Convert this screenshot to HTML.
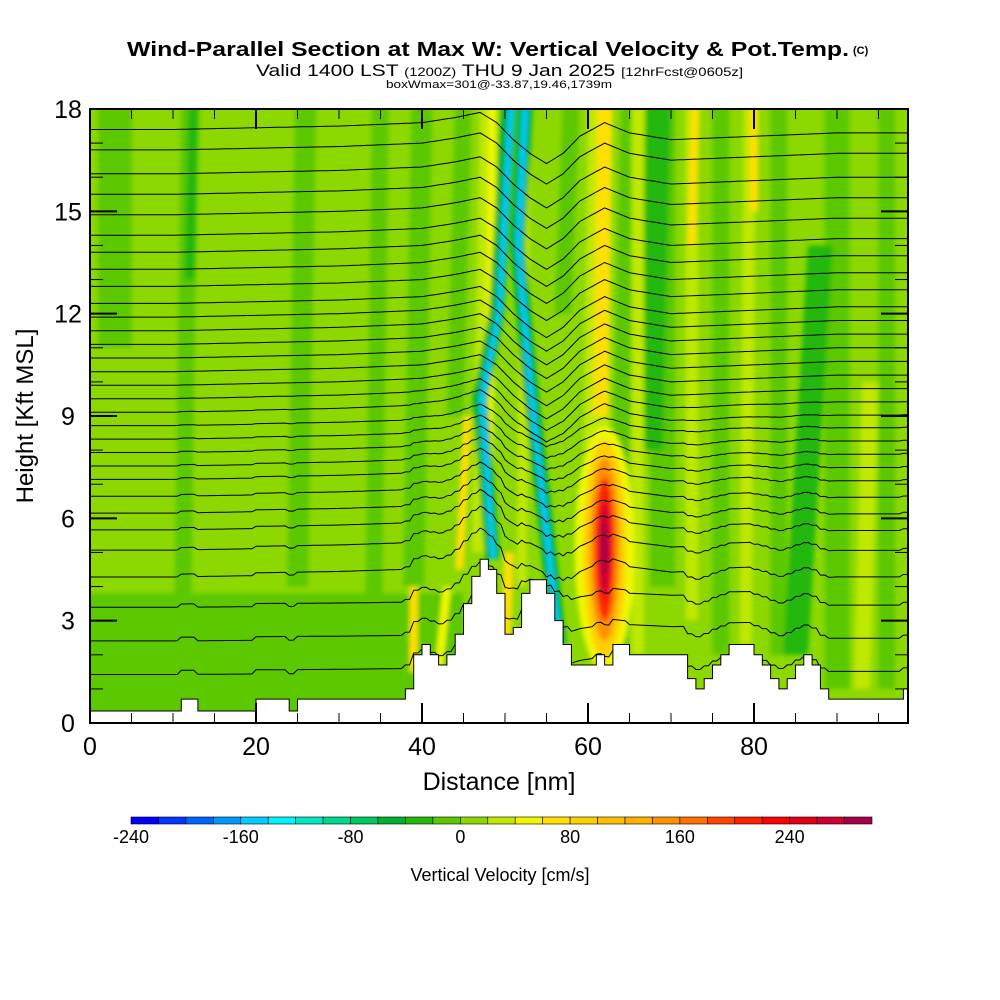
<!DOCTYPE html>
<html><head><meta charset="utf-8"><style>
body{margin:0;background:#fff;width:1000px;height:1000px;overflow:hidden;font-family:"Liberation Sans",sans-serif}
svg{position:absolute;left:0;top:0}
</style></head><body>
<svg id="chart" width="1000" height="1000" viewBox="0 0 1000 1000">
<defs>
<clipPath id="plotclip"><rect x="90" y="109" width="818" height="614"/></clipPath>
<filter id="soft" x="-20%" y="-20%" width="140%" height="140%"><feGaussianBlur stdDeviation="2.5"/></filter>
</defs>
<g>
<text x="127" y="56" font-size="20" font-weight="bold" textLength="722" lengthAdjust="spacingAndGlyphs">Wind-Parallel Section at Max W: Vertical Velocity &amp; Pot.Temp.</text>
<text x="853" y="54" font-size="11" font-weight="bold">(C)</text>
<text x="256" y="76" font-size="17" textLength="487" lengthAdjust="spacingAndGlyphs">Valid 1400 LST <tspan font-size="12">(1200Z)</tspan> THU 9 Jan 2025 <tspan font-size="12">[12hrFcst@0605z]</tspan></text>
<text x="386" y="88" font-size="11" textLength="226" lengthAdjust="spacingAndGlyphs">boxWmax=301@-33.87,19.46,1739m</text>
</g>
<g id="plot" clip-path="url(#plotclip)"></g>
<g id="axes"></g>
<g id="cbar"></g>
</svg>
<script>
// ---- data ----
const binColors=["#0000ff","#0034ff","#0064ff","#0098ff","#00ccff","#00f4ff","#00e8c0","#00d890","#00c860","#00b030","#24b80c","#5cc800","#8cd800","#c0e800","#f0f800","#ffe000","#ffd000","#ffc000","#ffb000","#ff9000","#ff7000","#ff4400","#ff2000","#ff0000","#e00018","#cc0030","#a80048"];
const cbarTicks=[-240,-160,-80,0,80,160,240];
const backgroundW=10;
// stripes: x positions (nm), heights (kft), width (nm), w value (cm/s)
const stripeX=[[22,22],[11,12],[3,3],[25,26],[34,35],[39,40],[44,45],[57,58],[64,65],[69,69],[76,76],[83,83],[90,90],[96,96],[12,12.5],[67.5,68.5],[86,86],[47,48],[52,52.5],[61,61.5],[66,66],[72.5,72.5],[79,79.5],[93,94],[39,39],[48,48.5],[61.5,62],[72.5,73],[80,80],[42,43],[44.5,45.5],[50,50.5],[85,88],[64,64]];
const stripeZ=[[0,3.8],[0,18],[11,18],[4,18],[0,18],[4,18],[9,18],[12,18],[8,18],[4,18],[2,18],[2,18],[1,18],[1,18],[13,18],[8,18],[2,5],[5,18],[4,18],[8,18],[2,18],[3,18],[2.3,18],[1,10],[1.5,4],[6,18],[9,18],[14,18],[15,18],[1.5,4],[4.5,9],[2,5],[2,14],[2,8]];
const stripeWidth=[46,2,4,2.5,2,2.5,2,2,2,3,2,2,3,2,1.2,3,0.8,2,1.2,3,1.5,1.5,1.5,2,1,1,1.8,1,1,1,1,1.2,3,1.5];
const stripeW=[-10,-10,-10,-10,-10,-10,-10,-10,-10,-10,-10,-10,-10,-10,-30,-30,-60,30,30,35,30,30,30,30,60,55,60,60,60,40,60,70,-30,-30];
// shear-zone downdraft bands (polylines)
const downX=[[50.5,49,47,48.5],[52.5,51.5,53,56.5],[50.8,49.3,47.2,48.6],[52.5,51.6,53,56.5]];
const downZ=[[18,12,9.5,4.8],[18,14,10,2.3],[18,12,9.5,4.8],[18,14,10,2.3]];
const downWidth=[1.8,1.8,0.7,0.7];
const downW=[-60,-60,-150,-150];
// updraft core
const coreX=62, coreZ=5.1;
const coreW=[40,80,140,200,260,290];
const coreRx=[3.6,2.6,1.8,1.2,0.7,0.35];
const coreRz=[3.6,3.2,2.7,2.1,1.4,0.8];
// terrain (step)
const terrX=[0,11,13,20,24,25,38,39,40,41,42,43,44,45,46,47,48,49,50,51,52,53,55,56,57,58,61,62,63,65,72,73,74,75,76,77,80,81,82,83,84,85,86,87,88,89,98];
const terrZ=[0.35,0.7,0.35,0.7,0.35,0.7,1.0,2.0,2.3,2.0,1.7,2.0,2.6,3.5,4.3,4.8,4.5,3.8,2.6,2.8,3.8,4.2,3.8,3.0,2.3,1.7,2.0,1.7,2.3,2.0,1.3,1.0,1.3,1.7,2.0,2.3,2.0,1.7,1.3,1.0,1.3,1.7,2.0,1.7,1.0,0.7,1.0];
// isentrope base heights (kft at left edge) & displacement profile
const thetaBase=[1.3,2.3,3.3,4.2,5.0,5.6,6.1,6.6,7.1,7.5,7.9,8.3,8.7,9.1,9.5,9.9,10.3,10.7,11.1,11.5,11.9,12.3,12.8,13.3,13.8,14.3,14.9,15.5,16.1,16.8,17.4];
const dispX=[0,10,20,30,40,44,47,49,51,53,55,57,59,62,65,70,75,80,90,98.5];
const dispZ=[0,0,0.05,0.1,0.2,0.35,0.5,0.2,-0.3,-0.7,-1.0,-0.7,-0.2,0.2,-0.1,-0.3,-0.25,-0.2,-0.1,-0.1];
const xTicks=[0,20,40,60,80];
const yTicks=[0,3,6,9,12,15,18];
// ---- scales ----
const X=d=>90+d*8.3, Z=k=>723-k*(614/18);
const col=w=>binColors[Math.max(0,Math.min(26,Math.floor((w+240)/20)))];
const NS="http://www.w3.org/2000/svg";
function mk(t,a,p){const e=document.createElementNS(NS,t);for(const k in a)e.setAttribute(k,a[k]);p.appendChild(e);return e;}
const plot=document.getElementById('plot');
const bg=mk('rect',{x:90,y:109,width:818,height:614,fill:col(backgroundW)},plot);


const fg=mk('g',{filter:'url(#soft)'},plot);
stripeX.forEach((xs,i)=>{
 const hw=stripeWidth[i]/2, zs=stripeZ[i];
 const pts=[[X(xs[0]-hw),Z(zs[0])],[X(xs[0]+hw),Z(zs[0])],[X(xs[1]+hw),Z(zs[1])+(zs[1]>=18?-10:0)],[X(xs[1]-hw),Z(zs[1])+(zs[1]>=18?-10:0)]];
 const p=mk('polygon',{points:pts.map(q=>q.join(',')).join(' '),fill:col(stripeW[i])},fg);
 
 
});
downX.forEach((xs,i)=>{
 const pts=xs.map((x,j)=>X(x)+','+(downZ[i][j]>=18?Z(18)-10:Z(downZ[i][j]))).join(' ');
 const p=mk('polyline',{points:pts,fill:'none',stroke:col(downW[i]),'stroke-width':downWidth[i]*8.3},fg);
 
 
});
coreW.forEach((w,i)=>{
 const e=mk('ellipse',{cx:X(coreX),cy:Z(coreZ),rx:coreRx[i]*8.3,ry:coreRz[i]*614/18,fill:col(w)},fg);
 
 
});
// isentropes
function interp(x){for(let j=1;j<dispX.length;j++){if(x<=dispX[j]){const t=(x-dispX[j-1])/(dispX[j]-dispX[j-1]);return dispZ[j-1]+t*(dispZ[j]-dispZ[j-1]);}}return dispZ[dispZ.length-1];}
function terr(x){let z=terrZ[0];for(let j=0;j<terrX.length;j++){if(x>=terrX[j])z=terrZ[j];}return z;}
const lg=mk('g',{fill:'none',stroke:'#000','stroke-width':1},plot);
thetaBase.forEach(b=>{
 const amp=b<4?0.3:(b<9?0.8:1);
 let d='';
 for(let x=0;x<=99;x+=0.5){
  const z=b+amp*interp(x)+terr(x)*Math.max(0,1-b/10)*0.4;
  d+=(x===0?'M':'L')+X(x).toFixed(1)+','+Z(z).toFixed(1);
 }
 const p=mk('path',{d:d},lg);
 
 
});
// terrain
let td='M'+X(0)+','+Z(0)+' ';
terrX.forEach((x,i)=>{const nx=i+1<terrX.length?terrX[i+1]:99;td+='L'+X(x)+','+Z(terrZ[i])+' L'+X(nx)+','+Z(terrZ[i])+' ';});
td+='L'+X(99)+','+Z(0)+'Z';
const tp=mk('path',{d:td,fill:'#fff',stroke:'#000','stroke-width':1},plot);


// axes
const ax=document.getElementById('axes');
mk('rect',{x:90,y:109,width:818,height:614,fill:'none',stroke:'#000','stroke-width':2},ax);
for(let k=1;k<18;k++){const y=Z(k);const maj=k%3===0;mk('line',{x1:90,x2:90+(maj?27:13),y1:y,y2:y,stroke:'#000','stroke-width':maj?2:1},ax);mk('line',{x1:908,x2:908-(maj?27:13),y1:y,y2:y,stroke:'#000','stroke-width':maj?2:1},ax);}
for(let d=5;d<98;d+=5){const x=X(d);const maj=d%20===0;mk('line',{x1:x,x2:x,y1:109,y2:109+(maj?20:10),stroke:'#000','stroke-width':maj?2:1},ax);mk('line',{x1:x,x2:x,y1:723,y2:723-(maj?20:10),stroke:'#000','stroke-width':maj?2:1},ax);}
yTicks.forEach(v=>{const t=mk('text',{x:68,y:Z(v)+9,'text-anchor':'middle','font-size':25},ax);t.textContent=v;
 
 });
xTicks.forEach(v=>{const t=mk('text',{x:X(v),y:755,'text-anchor':'middle','font-size':25},ax);t.textContent=v;
 
 });
const xt=mk('text',{x:499,y:790,'text-anchor':'middle','font-size':25},ax);xt.textContent='Distance [nm]';


const yt=mk('text',{x:33,y:416,'text-anchor':'middle','font-size':24,transform:'rotate(-90 33 416)'},ax);yt.textContent='Height [Kft MSL]';


// colorbar
const cb=document.getElementById('cbar');const bw=741/27;
binColors.forEach((c,i)=>{const r=mk('rect',{x:131+i*bw,y:817,width:bw,height:7,fill:c,stroke:'#000','stroke-width':0.6},cb);
 
 });
cbarTicks.forEach(v=>{const t=mk('text',{x:131+(v+240)/20*bw,y:843,'text-anchor':'middle','font-size':18},cb);t.textContent=v;
 
 });
const ct=mk('text',{x:500,y:881,'text-anchor':'middle','font-size':18},cb);ct.textContent='Vertical Velocity [cm/s]';


</script>
</body></html>
